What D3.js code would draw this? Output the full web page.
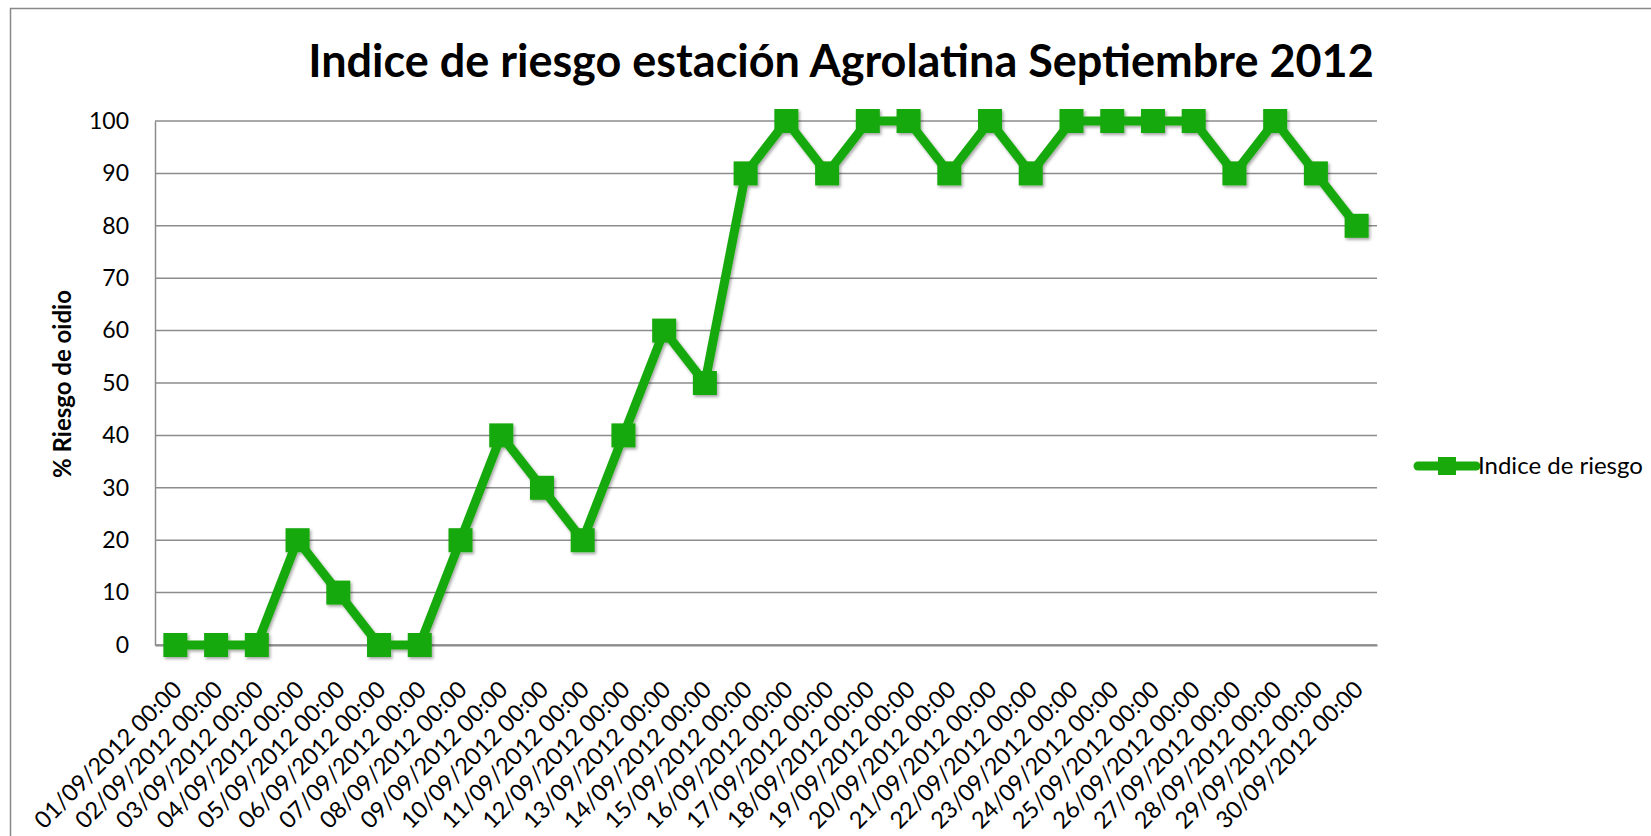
<!DOCTYPE html>
<html>
<head>
<meta charset="utf-8">
<script src="https://cdn.jsdelivr.net/npm/d3@7"></script>
<style>
  body { margin: 0; background: #fff; }
  text { font-family: Lato, "Open Sans", sans-serif; fill: #000; }
</style>
</head>
<body>
<svg id="chart"></svg>
<script>
// data
var days = ["01/09/2012 00:00", "02/09/2012 00:00", "03/09/2012 00:00", "04/09/2012 00:00",
  "05/09/2012 00:00", "06/09/2012 00:00", "07/09/2012 00:00", "08/09/2012 00:00",
  "09/09/2012 00:00", "10/09/2012 00:00", "11/09/2012 00:00", "12/09/2012 00:00",
  "13/09/2012 00:00", "14/09/2012 00:00", "15/09/2012 00:00", "16/09/2012 00:00",
  "17/09/2012 00:00", "18/09/2012 00:00", "19/09/2012 00:00", "20/09/2012 00:00",
  "21/09/2012 00:00", "22/09/2012 00:00", "23/09/2012 00:00", "24/09/2012 00:00",
  "25/09/2012 00:00", "26/09/2012 00:00", "27/09/2012 00:00", "28/09/2012 00:00",
  "29/09/2012 00:00", "30/09/2012 00:00"];
var riesgo = [0, 0, 0, 20, 10, 0, 0, 20, 40, 30, 20, 40, 60, 50, 90,
  100, 90, 100, 100, 90, 100, 90, 100, 100, 100, 100, 90, 100, 90, 80];
var yTicks = [0, 10, 20, 30, 40, 50, 60, 70, 80, 90, 100];
var seriesName = "Indice de riesgo";
var title = "Indice de riesgo estación Agrolatina Septiembre 2012";
var yTitle = "% Riesgo de oidio";

var W = 1651, H = 836;
var green = "#19a90b";
var plot = {left: 155, right: 1377, top: 121, bottom: 645};

var svg = d3.select("#chart").attr("width", W).attr("height", H);

// drop shadow for the series
var defs = svg.append("defs");
defs.append("filter").attr("id", "shadow")
    .attr("x", "-20%").attr("y", "-20%").attr("width", "140%").attr("height", "140%")
  .append("feDropShadow")
    .attr("dx", 1.5).attr("dy", 2).attr("stdDeviation", 1.5)
    .attr("flood-color", "#000").attr("flood-opacity", 0.35);

// chart border (runs off the right and bottom)
svg.append("rect")
    .attr("x", 10.5).attr("y", 8.5)
    .attr("width", W + 20).attr("height", H + 20)
    .attr("fill", "none").attr("stroke", "#888").attr("stroke-width", 1.5);

var x = d3.scaleBand().domain(days).range([plot.left, plot.right]);
var y = d3.scaleLinear().domain([0, 100]).range([plot.bottom, plot.top]);

// gridlines
svg.append("g")
  .selectAll("line")
  .data(yTicks)
  .join("line")
    .attr("x1", plot.left).attr("x2", plot.right)
    .attr("y1", function(d) { return y(d); })
    .attr("y2", function(d) { return y(d); })
    .attr("stroke", "#8c8c8c").attr("stroke-width", 1.5);

// y axis
var yAxis = svg.append("g")
    .attr("transform", "translate(" + plot.left + ",0)")
    .call(d3.axisLeft(y).tickValues(yTicks).tickSize(0).tickPadding(26));
yAxis.select(".domain").attr("stroke", "#8c8c8c").attr("stroke-width", 1.5);
yAxis.selectAll("text").style("font-size", "23px").style("font-family", "Lato, sans-serif");

// x axis
var xAxis = svg.append("g")
    .attr("transform", "translate(0," + plot.bottom + ")")
    .call(d3.axisBottom(x).tickSize(0).tickPadding(0));
xAxis.select(".domain").attr("stroke", "#8c8c8c").attr("stroke-width", 2);
xAxis.selectAll("text")
    .style("font-size", "23.5px").style("font-family", "Lato, sans-serif")
    .attr("text-anchor", "end")
    .attr("dy", 0)
    .attr("y", 0)
    .attr("transform", "translate(8,46) rotate(-45)");

// line + markers
var cx = function(d, i) { return x(days[i]) + x.bandwidth() / 2; };
var line = d3.line()
    .x(function(d, i) { return cx(d, i); })
    .y(function(d) { return y(d); });

var series = svg.append("g").attr("filter", "url(#shadow)");
series.append("path")
    .datum(riesgo)
    .attr("d", line)
    .attr("fill", "none").attr("stroke", green)
    .attr("stroke-width", 9).attr("stroke-linejoin", "round");

var m = 24;
series.selectAll("rect")
  .data(riesgo)
  .join("rect")
    .attr("x", function(d, i) { return cx(d, i) - m / 2; })
    .attr("y", function(d) { return y(d) - m / 2; })
    .attr("width", m).attr("height", m)
    .attr("fill", green);

// title
svg.append("text")
    .attr("x", 841).attr("y", 77)
    .attr("text-anchor", "middle")
    .style("font-size", "45px").style("font-weight", "bold")
    .text(title);

// y axis title
svg.append("text")
    .attr("transform", "translate(71,384) rotate(-90)")
    .attr("text-anchor", "middle")
    .style("font-size", "24px").style("font-weight", "bold")
    .text(yTitle);

// legend
var lg = svg.append("g").attr("transform", "translate(1418,466)");
lg.append("line")
    .attr("x1", 0).attr("x2", 58).attr("y1", 0).attr("y2", 0)
    .attr("stroke", green).attr("stroke-width", 9).attr("stroke-linecap", "round");
lg.append("rect")
    .attr("x", 20).attr("y", -9).attr("width", 18).attr("height", 18)
    .attr("fill", green);
lg.append("text")
    .attr("x", 60).attr("y", 0).attr("dy", "0.35em")
    .style("font-size", "24px")
    .text(seriesName);
</script>
</body>
</html>
